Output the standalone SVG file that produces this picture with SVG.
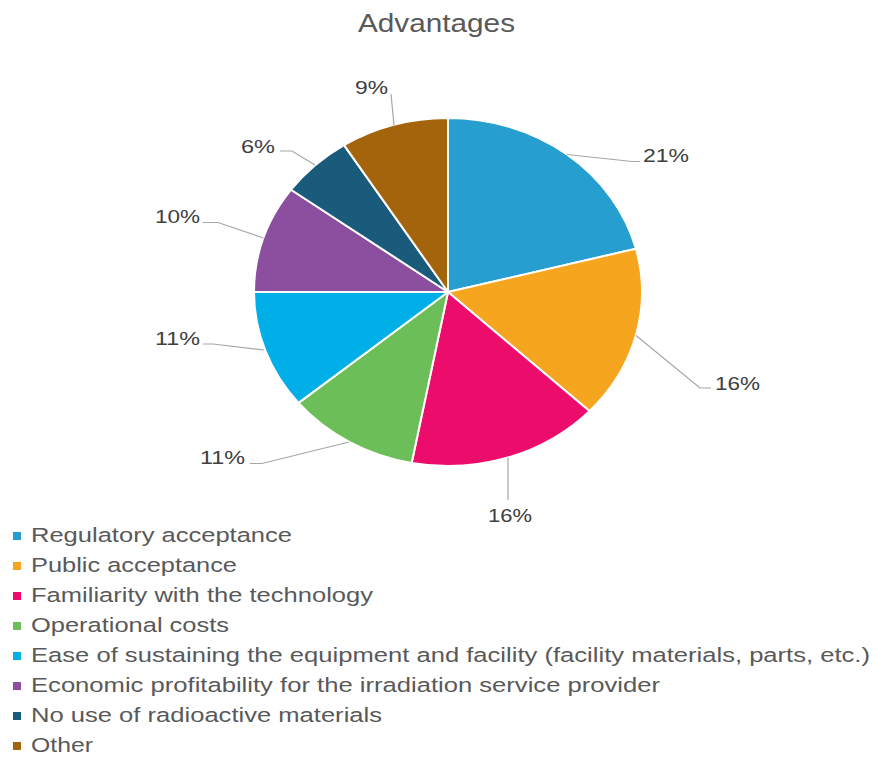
<svg xmlns="http://www.w3.org/2000/svg" width="875" height="759" viewBox="0 0 875 759">
  <style>
    text { font-family: "Liberation Sans", Arial, sans-serif; }
    .title { font-size: 25px; fill: #595959; }
    .pct { font-size: 19px; fill: #404040; }
    .leg { font-size: 20.5px; fill: #595959; }
    .slice { stroke: #ffffff; stroke-width: 2; stroke-linejoin: round; }
    .leader { fill: none; stroke: #a6a6a6; stroke-width: 1.2; }
  </style>
  <rect x="0" y="0" width="875" height="759" fill="#ffffff"/>

  <g id="title">
    <text class="title" x="358" y="32" textLength="157" lengthAdjust="spacingAndGlyphs">Advantages</text>
  </g>

  <g id="pie">
    <g id="slice-regulatory">
      <path class="slice" fill="#269ECF" d="M448,292 L448,118 A194,174 0 0 1 635.9,248.73 Z"/>
    </g>
    <g id="slice-public">
      <path class="slice" fill="#F6A51F" d="M448,292 L635.9,248.73 A194,174 0 0 1 589.42,411.11 Z"/>
    </g>
    <g id="slice-familiarity">
      <path class="slice" fill="#EB0C6C" d="M448,292 L589.42,411.11 A194,174 0 0 1 411.65,462.92 Z"/>
    </g>
    <g id="slice-operational">
      <path class="slice" fill="#6CBE58" d="M448,292 L411.65,462.92 A194,174 0 0 1 298.52,402.91 Z"/>
    </g>
    <g id="slice-ease">
      <path class="slice" fill="#00AEE8" d="M448,292 L298.52,402.91 A194,174 0 0 1 254,292 Z"/>
    </g>
    <g id="slice-economic">
      <path class="slice" fill="#8C4E9F" d="M448,292 L254,292 A194,174 0 0 1 291.05,189.72 Z"/>
    </g>
    <g id="slice-noradioactive">
      <path class="slice" fill="#1A5B7C" d="M448,292 L291.05,189.72 A194,174 0 0 1 344.05,145.09 Z"/>
    </g>
    <g id="slice-other">
      <path class="slice" fill="#A3640B" d="M448,292 L344.05,145.09 A194,174 0 0 1 448,118 Z"/>
    </g>
  </g>

  <g id="connectors">
    <polyline class="leader" points="567,154.5 632,161.5 640,161.5"/>
    <polyline class="leader" points="636,335.5 700,388 711,388"/>
    <polyline class="leader" points="508,457.5 508,500"/>
    <polyline class="leader" points="349,442 262,463.5 250,463.5"/>
    <polyline class="leader" points="264,350 213,344 203,344"/>
    <polyline class="leader" points="263.5,238 218,222.5 203,222.5"/>
    <polyline class="leader" points="315,165 292,151 280,151"/>
    <polyline class="leader" points="394,125 391,94"/>
  </g>

  <g id="labels">
    <text class="pct" x="643" y="162" textLength="46" lengthAdjust="spacingAndGlyphs">21%</text>
    <text class="pct" x="715" y="390" textLength="45" lengthAdjust="spacingAndGlyphs">16%</text>
    <text class="pct" x="488" y="522" textLength="44" lengthAdjust="spacingAndGlyphs">16%</text>
    <text class="pct" x="200" y="464" textLength="45" lengthAdjust="spacingAndGlyphs">11%</text>
    <text class="pct" x="155" y="345" textLength="45" lengthAdjust="spacingAndGlyphs">11%</text>
    <text class="pct" x="155" y="223" textLength="45" lengthAdjust="spacingAndGlyphs">10%</text>
    <text class="pct" x="241" y="153" textLength="34" lengthAdjust="spacingAndGlyphs">6%</text>
    <text class="pct" x="355" y="94" textLength="33" lengthAdjust="spacingAndGlyphs">9%</text>
  </g>

  <g id="legend">
    <g id="legend-regulatory">
      <rect x="13" y="532" width="8" height="8" fill="#269ECF"/>
      <text class="leg" x="31" y="542" textLength="261" lengthAdjust="spacingAndGlyphs">Regulatory acceptance</text>
    </g>
    <g id="legend-public">
      <rect x="13" y="562" width="8" height="8" fill="#F6A51F"/>
      <text class="leg" x="31" y="572" textLength="206" lengthAdjust="spacingAndGlyphs">Public acceptance</text>
    </g>
    <g id="legend-familiarity">
      <rect x="13" y="592" width="8" height="8" fill="#EB0C6C"/>
      <text class="leg" x="31" y="602" textLength="342" lengthAdjust="spacingAndGlyphs">Familiarity with the technology</text>
    </g>
    <g id="legend-operational">
      <rect x="13" y="622" width="8" height="8" fill="#6CBE58"/>
      <text class="leg" x="31" y="632" textLength="198" lengthAdjust="spacingAndGlyphs">Operational costs</text>
    </g>
    <g id="legend-ease">
      <rect x="13" y="652" width="8" height="8" fill="#00AEE8"/>
      <text class="leg" x="31" y="662" textLength="839" lengthAdjust="spacingAndGlyphs">Ease of sustaining the equipment and facility (facility materials, parts, etc.)</text>
    </g>
    <g id="legend-economic">
      <rect x="13" y="682" width="8" height="8" fill="#8C4E9F"/>
      <text class="leg" x="31" y="692" textLength="629" lengthAdjust="spacingAndGlyphs">Economic profitability for the irradiation service provider</text>
    </g>
    <g id="legend-noradioactive">
      <rect x="13" y="712" width="8" height="8" fill="#1A5B7C"/>
      <text class="leg" x="31" y="722" textLength="351" lengthAdjust="spacingAndGlyphs">No use of radioactive materials</text>
    </g>
    <g id="legend-other">
      <rect x="13" y="742" width="8" height="8" fill="#A3640B"/>
      <text class="leg" x="31" y="752" textLength="62" lengthAdjust="spacingAndGlyphs">Other</text>
    </g>
  </g>
</svg>
